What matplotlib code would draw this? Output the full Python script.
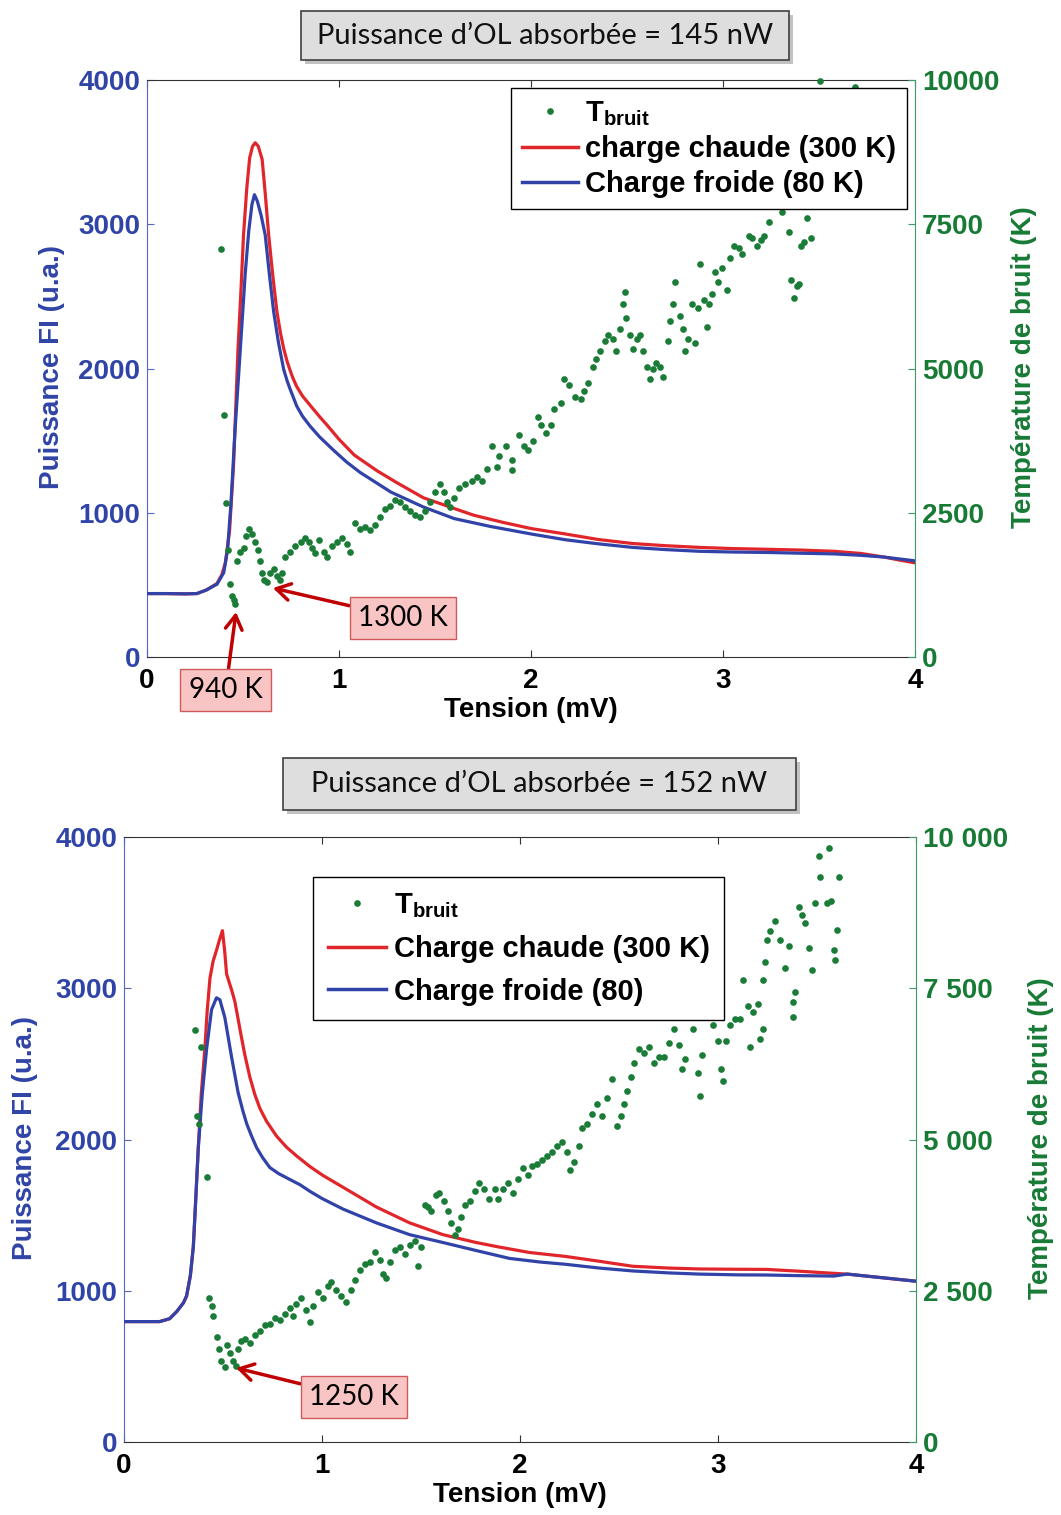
import matplotlib
matplotlib.use('Agg')
import matplotlib.pyplot as plt
from matplotlib.patches import Rectangle
from matplotlib.lines import Line2D

plt.rcParams['font.family'] = ['Liberation Sans', 'DejaVu Sans']
plt.rcParams['mathtext.fontset'] = 'custom'
plt.rcParams['mathtext.rm'] = 'Liberation Sans:bold'
plt.rcParams['mathtext.bf'] = 'Liberation Sans:bold'

# --- couleurs ---
RED = '#e1262b'
BLUE = '#3142a8'
GREEN = '#1b7c38'
BLUE_TXT = '#2f44a6'
GREEN_TXT = '#177a35'
BLUE_SPINE = '#5566c6'
GREEN_SPINE = '#3b9a68'

# --- DONNEES : panneau du haut (145 nW) ---
top_x_hot = [0, 0.1, 0.2, 0.26, 0.31, 0.365, 0.39, 0.408, 0.43, 0.451, 0.474, 0.49, 0.503, 0.52,
             0.535, 0.55, 0.564, 0.58, 0.6, 0.617, 0.634, 0.655, 0.677, 0.695, 0.712, 0.73,
             0.745, 0.76, 0.78, 0.81, 0.85, 0.9, 0.94, 1.0, 1.08, 1.2, 1.3, 1.44, 1.6, 1.7,
             1.85, 2.0, 2.18, 2.35, 2.53, 2.7, 2.88, 3.05, 3.23, 3.4, 3.58, 3.72, 3.84, 3.92, 4.0]
top_p_hot = [440, 440, 438, 440, 465, 510, 570, 650, 870, 1330, 2128, 2550, 2926, 3250,
             3460, 3540, 3565, 3540, 3450, 3200, 2926, 2650, 2394, 2250, 2140, 2050,
             1990, 1935, 1875, 1810, 1745, 1665, 1605, 1510, 1400, 1290, 1210, 1104, 1030, 984,
             935, 891, 853, 815, 787, 772, 760, 752, 747, 742, 733, 718, 693, 672, 653]
top_x_cold = [0, 0.1, 0.2, 0.26, 0.31, 0.365, 0.40, 0.42, 0.4375, 0.46, 0.486, 0.512, 0.53,
              0.547, 0.56, 0.575, 0.595, 0.616, 0.638, 0.66, 0.685, 0.712, 0.73, 0.745, 0.78,
              0.81, 0.85, 0.9, 0.97, 1.04, 1.11, 1.27, 1.44, 1.6, 1.79, 2.01, 2.18, 2.35, 2.53,
              2.7, 2.88, 3.05, 3.23, 3.4, 3.58, 3.72, 3.84, 3.92, 4.0]
top_p_cold = [440, 440, 438, 440, 465, 505, 585, 745, 1064, 1596, 2128, 2660, 2950,
              3138, 3205, 3160, 3060, 2926, 2650, 2394, 2180, 1995, 1915, 1860, 1740,
              1670, 1600, 1525, 1436, 1352, 1280, 1144, 1040, 960, 905, 851, 813, 785, 760,
              745, 733, 728, 725, 720, 715, 705, 693, 680, 667]
top_x_noise = [0.385, 0.40, 0.41, 0.42, 0.43, 0.443, 0.451, 0.46, 0.469, 0.486, 0.503, 0.517,
               0.53, 0.547, 0.564, 0.576, 0.587, 0.599, 0.611, 0.625, 0.642, 0.66, 0.677, 0.694,
               0.703, 0.72, 0.747, 0.773, 0.80, 0.825, 0.842, 0.859, 0.877, 0.894, 0.92, 0.937,
               0.963, 0.99, 1.016, 1.042, 1.059, 1.085, 1.111, 1.137, 1.163, 1.19, 1.215, 1.241,
               1.267, 1.293, 1.319, 1.345, 1.372, 1.398, 1.424, 1.45, 1.476, 1.502, 1.528, 1.545,
               1.562, 1.58, 1.597, 1.623, 1.658, 1.693, 1.719, 1.745, 1.771, 1.797, 1.823,
               1.834, 1.869, 1.904, 1.904, 1.939, 1.965, 1.983, 2.009, 2.035, 2.052, 2.079, 2.105,
               2.122, 2.157, 2.174, 2.2, 2.227, 2.262, 2.279, 2.297, 2.323, 2.34, 2.358, 2.384,
               2.402, 2.428, 2.445, 2.462, 2.48, 2.489, 2.497, 2.515, 2.532, 2.55, 2.567, 2.585,
               2.602, 2.62, 2.637, 2.654, 2.672, 2.689, 2.716, 2.724, 2.741, 2.75, 2.776, 2.794,
               2.802, 2.82, 2.837, 2.855, 2.872, 2.881, 2.899, 2.916, 2.925, 2.942, 2.96, 2.977,
               2.995, 3.021, 3.038, 3.056, 3.082, 3.1, 3.134, 3.152, 3.178, 3.197, 3.214, 3.239,
               3.257, 3.283, 3.309, 3.327, 3.344, 3.353, 3.37, 3.388, 3.396, 3.405, 3.422, 3.44,
               3.458, 3.47, 3.5, 3.55, 3.6, 3.62, 3.65, 3.505, 3.69]
top_t_noise = [7071, 4194, 2669, 1862, 1263, 1064, 997, 918, 1662, 1829, 1895, 2094,
               2227, 2128, 1995, 1862, 1662, 1463, 1330, 1297, 1463, 1529, 1396, 1330,
               1463, 1729, 1829, 1928, 1995, 2061, 1995, 1895, 1795, 2028, 1829, 1729,
               1928, 1995, 2061, 1961, 1829, 2327, 2227, 2261, 2194, 2294, 2427, 2560,
               2626, 2726, 2693, 2593, 2527, 2460, 2427, 2527, 2693, 2859, 2992, 2859,
               2693, 2593, 2759, 2926, 2992, 3059, 3125, 3059, 3258, 3657, 3291,
               3477, 3649, 3408, 3236, 3855, 3649, 3580, 3752, 4164, 4027, 3889, 4027,
               4302, 4405, 4818, 4715, 4508, 4474, 4612, 4749, 5024, 5162, 5299, 5471,
               5574, 5506, 5299, 5678, 6125, 6331, 5884, 5574, 5334, 5506, 5574, 5299,
               5024, 4818, 4990, 5093, 5024, 4852, 5471, 5815, 6125, 6503, 5918, 5678,
               5299, 5506, 6125, 5437, 6056, 6813, 6194, 5712, 6125, 6297, 6675, 6503,
               6744, 6366, 6916, 7122, 7088, 6984, 7294, 7259, 7122, 7225, 7294, 7535,
               7879, 7948, 7706, 7913, 7363, 6538, 6228, 6434, 6469, 7122, 7191, 7603,
               7259, 8300, 8700, 9100, 9400, 8900, 9600, 9990, 9879]

# --- DONNEES : panneau du bas (152 nW) ---
bot_x_hot = [0, 0.1, 0.18, 0.23, 0.266, 0.3, 0.316, 0.335, 0.35, 0.362, 0.375, 0.39, 0.408,
             0.42, 0.434, 0.45, 0.467, 0.482, 0.497, 0.508, 0.518, 0.543, 0.56, 0.593, 0.61,
             0.635, 0.66, 0.686, 0.72, 0.77, 0.82, 0.87, 0.94, 1.005, 1.14, 1.274, 1.442, 1.61,
             1.778, 1.89, 2.047, 2.229, 2.4, 2.568, 2.75, 2.907, 3.1, 3.246, 3.4, 3.585, 3.653,
             3.8, 4.0]
bot_p_hot = [796, 796, 796, 815, 862, 920, 966, 1100, 1292, 1600, 1945, 2300, 2598,
             2850, 3068, 3180, 3251, 3320, 3381, 3250, 3094, 2990, 2911, 2676, 2560,
             2415, 2300, 2206, 2120, 2023, 1950, 1893, 1820, 1762, 1658, 1554, 1449, 1371,
             1319, 1290, 1253, 1227, 1195, 1162, 1150, 1144, 1142, 1141, 1130, 1115, 1110,
             1090, 1063]
bot_x_cold = [0, 0.1, 0.18, 0.23, 0.266, 0.3, 0.316, 0.335, 0.35, 0.362, 0.375, 0.395, 0.417,
              0.442, 0.467, 0.484, 0.509, 0.543, 0.576, 0.6, 0.62, 0.645, 0.67, 0.7, 0.736,
              0.78, 0.837, 0.89, 0.938, 1.0, 1.106, 1.274, 1.442, 1.61, 1.778, 1.946, 2.1,
              2.229, 2.4, 2.568, 2.75, 2.907, 3.1, 3.246, 3.4, 3.585, 3.653, 3.8, 4.0]
bot_p_cold = [796, 796, 796, 815, 862, 920, 966, 1100, 1292, 1600, 1945, 2300, 2598,
              2859, 2937, 2924, 2807, 2546, 2311, 2190, 2102, 2020, 1945, 1880, 1815,
              1775, 1736, 1700, 1658, 1610, 1540, 1449, 1371, 1319, 1266, 1214, 1190,
              1175, 1150, 1131, 1118, 1110, 1105, 1104, 1100, 1097, 1110, 1090, 1063]
bot_x_noise = [0.358, 0.387, 0.366, 0.38, 0.417, 0.43, 0.442, 0.45, 0.467, 0.48, 0.492, 0.509,
               0.521, 0.534, 0.551, 0.565, 0.576, 0.593, 0.61, 0.635, 0.66, 0.686, 0.711, 0.736,
               0.761, 0.787, 0.812, 0.837, 0.854, 0.871, 0.896, 0.921, 0.938, 0.955, 0.98, 1.005,
               1.03, 1.047, 1.072, 1.097, 1.123, 1.148, 1.165, 1.19, 1.215, 1.24, 1.266, 1.291,
               1.308, 1.324, 1.341, 1.366, 1.392, 1.417, 1.442, 1.467, 1.484, 1.501, 1.518, 1.534,
               1.551, 1.576, 1.592, 1.618, 1.635, 1.652, 1.669, 1.686, 1.703, 1.72, 1.745, 1.77,
               1.795, 1.82, 1.845, 1.871,
               1.89, 1.915, 1.941, 1.966, 1.992, 2.017, 2.042, 2.059, 2.085, 2.11, 2.136, 2.161,
               2.186, 2.212, 2.237, 2.254, 2.271, 2.297, 2.314, 2.339, 2.364, 2.39, 2.415, 2.441,
               2.466, 2.492, 2.508, 2.525, 2.542, 2.559, 2.576, 2.602, 2.627, 2.653, 2.678, 2.703,
               2.729, 2.754, 2.78, 2.805, 2.819, 2.831, 2.873, 2.898, 2.907, 2.92, 2.975, 3.0,
               3.017, 3.025, 3.042, 3.059, 3.085, 3.11, 3.127, 3.153, 3.178, 3.203, 3.229, 3.229,
               3.212, 3.161, 3.237, 3.246, 3.263, 3.288, 3.314, 3.339, 3.356, 3.381, 3.39, 3.381,
               3.407, 3.424, 3.441, 3.458, 3.475, 3.492, 3.508, 3.517, 3.551, 3.559, 3.568, 3.585,
               3.593, 3.602, 3.61]
bot_t_noise = [6802, 6527, 5385, 5254, 4373, 2382, 2252, 2089, 1743, 1534, 1338, 1240,
               1599, 1469, 1338, 1260, 1534, 1664, 1697, 1632, 1762, 1828, 1926, 1958,
               2056, 2024, 2121, 2219, 2089, 2285, 2382, 2187, 1991, 2252, 2480, 2382,
               2578, 2644, 2513, 2415, 2317, 2513, 2676, 2839, 2937, 2970, 3133, 3003,
               2774, 2709, 2970, 3166, 3231, 3101, 3264, 3329, 2905, 3231, 3916, 3884,
               3818, 4080, 4112, 3982, 3818, 3623, 3427, 3525, 3721, 3916, 3982, 4145,
               4275, 4178, 4014, 4178,
               4014, 4178, 4275, 4112, 4341, 4537, 4406, 4569, 4602, 4667, 4733, 4798,
               4896, 4961, 4798, 4504, 4635, 4896, 5189, 5254, 5418, 5581, 5385, 5679,
               6005, 5222, 5385, 5581, 5809, 6038, 6266, 6495, 6429, 6527, 6266, 6364,
               6364, 6593, 6821, 6560, 6168, 6332, 6821, 6103, 5712, 6397, 6887, 6625,
               6168, 5973, 6625, 6887, 6984, 6984, 7637, 7213, 7115, 7246, 7637, 6821,
               6658, 6527, 7931, 8290, 8453, 8616, 8290, 7833, 8192, 7278, 7441, 7017,
               8845, 8714, 8584, 8159, 7800, 8910, 9693, 9334, 8910, 9824, 8942, 8127,
               7964, 8466, 9334]

x_ticks = [0, 1, 2, 3, 4]
p_ticks = [0, 1000, 2000, 3000, 4000]
t_ticks = [0, 2500, 5000, 7500, 10000]
top_t_labels = ['0', '2500', '5000', '7500', '10000']
bot_t_labels = ['0', '2 500', '5 000', '7 500', '10 000']

FS = 20


def make_panel(rect, xh, ph, xc, pc, xn, tn, tlabels, leg_labels, leg_anchor, leg_loc,
               leg_spacing, leg_pad, leg_hl, notes, lab_left_x, lab_right_x):
    ax = fig.add_axes(rect)
    ax2 = ax.twinx()

    ax.plot(xh, ph, color=RED, lw=2.3, zorder=2)
    ax.plot(xc, pc, color=BLUE, lw=2.3, zorder=3)
    ax2.plot(xn, tn, 'o', ms=4.8, mew=0, color=GREEN, clip_on=False)

    ax.set_xlim(0, 4)
    ax.set_ylim(0, 4000)
    ax2.set_ylim(0, 10000)
    ax.set_xticks(x_ticks)
    ax.set_xticklabels([str(v) for v in x_ticks], fontsize=FS, fontweight='bold')
    ax.set_yticks(p_ticks)
    ax.set_yticklabels([str(v) for v in p_ticks], fontsize=FS, fontweight='bold', color=BLUE_TXT)
    ax2.set_yticks(t_ticks)
    ax2.set_yticklabels(tlabels, fontsize=FS, fontweight='bold', color=GREEN_TXT)

    ax.tick_params(axis='x', direction='in', top=True, length=5, pad=8, color='#333333')
    ax.tick_params(axis='y', direction='in', length=5, pad=5, color=BLUE_SPINE)
    ax2.tick_params(axis='y', direction='in', length=5, pad=5, color=GREEN_SPINE)

    ax.spines['left'].set_color(BLUE_SPINE)
    ax.spines['right'].set_visible(False)
    ax.spines['top'].set_color('#333333')
    ax.spines['bottom'].set_color('#333333')
    for s in ['left', 'top', 'bottom']:
        ax2.spines[s].set_visible(False)
    ax2.spines['right'].set_color(GREEN_SPINE)

    ax.set_xlabel('Tension (mV)', fontsize=FS, fontweight='bold', labelpad=2)
    ax.set_ylabel('Puissance FI (u.a.)', fontsize=FS, fontweight='bold', color=BLUE_TXT, va='center')
    ax.yaxis.set_label_coords(lab_left_x, 0.503)
    ax2.set_ylabel('Température de bruit (K)', fontsize=FS, fontweight='bold', color=GREEN_TXT,
                   va='center', rotation=90)
    ax2.yaxis.set_label_coords(lab_right_x, 0.503)

    handles = [Line2D([], [], ls='none', marker='o', ms=4.8, mew=0, color=GREEN),
               Line2D([], [], color=RED, lw=2.5),
               Line2D([], [], color=BLUE, lw=2.5)]
    leg = ax2.legend(handles, [r'T$_{\mathregular{bruit}}$'] + leg_labels, loc=leg_loc,
                     bbox_to_anchor=leg_anchor, borderaxespad=0, fancybox=False,
                     edgecolor='black', framealpha=1, handlelength=leg_hl, handletextpad=0.25,
                     labelspacing=leg_spacing, borderpad=leg_pad, numpoints=1,
                     prop={'family': 'Liberation Sans', 'weight': 'bold', 'size': 21})
    leg.get_frame().set_linewidth(1.0)
    leg.set_zorder(10)

    for txt, tip, pos in notes:
        ax2.annotate(txt, xy=tip, xytext=pos, ha='center', va='center', fontsize=20,
                     family='Lato', annotation_clip=False, zorder=11,
                     bbox=dict(boxstyle='square,pad=0.3', fc='#f8c4c4', ec='#cf5a5c', lw=1),
                     arrowprops=dict(arrowstyle='->,head_length=0.5,head_width=0.3',
                                     color='#c00000', lw=2.5, shrinkA=0, shrinkB=0))
    return ax, ax2


fig = plt.figure(figsize=(10.61, 15.15), dpi=100)

# titres encadrés
for (x0, y0, w, h, label) in [(301, 11, 488, 49, 'Puissance d’OL absorbée = 145 nW'),
                              (283, 758, 513, 52, 'Puissance d’OL absorbée = 152 nW')]:
    fig.add_artist(Rectangle(((x0 + 4) / 1061, 1 - (y0 + h + 4) / 1515), w / 1061, h / 1515,
                             transform=fig.transFigure, fc='#9a9a9a', ec='none', alpha=0.6))
    fig.add_artist(Rectangle((x0 / 1061, 1 - (y0 + h) / 1515), w / 1061, h / 1515,
                             transform=fig.transFigure, fc='#dedede', ec='#404040', lw=1.2))
    fig.text((x0 + w / 2) / 1061, 1 - (y0 + h / 2) / 1515, label, ha='center', va='center',
             fontsize=21, family='Lato', color='#111111')

make_panel([0.1385, 0.5663, 0.7238, 0.3809], top_x_hot, top_p_hot, top_x_cold, top_p_cold,
           top_x_noise, top_t_noise, top_t_labels,
           ['charge chaude (300 K)', 'Charge froide (80 K)'], (0.990, 0.986), 'upper right',
           0.24, 0.38, 1.9,
           [('940 K', (0.464, 780), (0.41, -572)),
            ('1300 K', (0.656, 1196), (1.333, 676))],
           -0.124, 1.142)

make_panel([0.1169, 0.0482, 0.7465, 0.3993], bot_x_hot, bot_p_hot, bot_x_cold, bot_p_cold,
           bot_x_noise, bot_t_noise, bot_t_labels,
           ['Charge chaude (300 K)', 'Charge froide (80)'], (0.239, 0.934), 'upper left',
           0.5, 0.5, 2.0,
           [('1250 K', (0.566, 1223), (1.162, 744))],
           -0.125, 1.158)

fig.savefig('out.png', dpi=100)
